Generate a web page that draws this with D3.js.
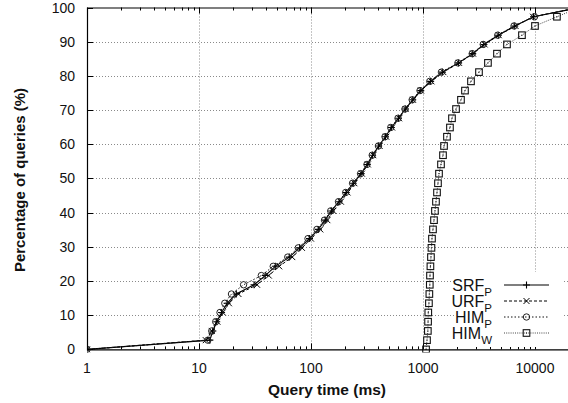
<!DOCTYPE html>
<html><head><meta charset="utf-8">
<script src="https://cdn.jsdelivr.net/npm/d3@7/dist/d3.min.js"></script>
<style>
html,body{margin:0;padding:0;background:#fff;}
text{font-family:"Liberation Sans",Arial,Helvetica,sans-serif;fill:#111;}
</style></head>
<body><svg id="c" width="568" height="403"></svg>
<script>
// ---- data ----
const percentiles = [0, 2.7, 5.4, 8.1, 10.8, 13.5, 16.2, 18.9, 21.6, 24.3, 27.0, 29.7, 32.4, 35.1, 37.8, 40.5, 43.2, 45.9, 48.6, 51.4, 54.1, 56.8, 59.5, 62.2, 64.9, 67.6, 70.3, 73.0, 75.7, 78.4, 81.1, 83.8, 86.5, 89.2, 91.9, 94.6, 97.3, 100];
const srfTimes  = [1, 12.5, 13.3, 14.4, 15.9, 17.8, 21.5, 31, 39, 48, 64, 79, 97, 116, 134, 152, 178, 206, 238, 280, 318, 355, 402, 462, 522, 605, 695, 810, 955, 1170, 1490, 2080, 2780, 3500, 4700, 6600, 9700, 25000];
const urfTimes  = [1, 11.5, 13.0, 14.6, 16.3, 18.5, 22.5, 33, 42, 52, 68, 83, 100, 121, 140, 158, 185, 212, 244, 285, 322, 360, 410, 470, 530, 612, 700, 815, 960, 1190, 1520, 2100, 2800, 3550, 4750, 6700, 9600, 25000];
const himPTimes = [1, 12, 13.0, 14.1, 15.4, 17.0, 19.5, 25, 36, 46, 62, 77, 94, 113, 132, 150, 176, 204, 235, 277, 316, 352, 400, 458, 515, 598, 690, 800, 940, 1150, 1460, 2050, 2750, 3450, 4650, 6500, 9900, 24000];
const himWTimes = [1065, 1086, 1105, 1110, 1115, 1130, 1140, 1150, 1155, 1165, 1178, 1190, 1203, 1228, 1254, 1279, 1306, 1334, 1361, 1390, 1448, 1509, 1541, 1637, 1741, 1815, 1972, 2184, 2371, 2683, 3162, 3802, 4577, 5623, 7650, 10000, 15700, 25000];
const seriesNames = ["SRF", "URF", "HIM", "HIM"];
const seriesSubs  = ["P", "P", "P", "W"];
const xTickValues = [1, 10, 100, 1000, 10000];
const xTickLabels = ["1", "10", "100", "1000", "10000"];
const yTickValues = [0, 10, 20, 30, 40, 50, 60, 70, 80, 90, 100];
const xTitle = "Query time (ms)";
const yTitle = "Percentage of queries (%)";

const seriesTimes = [srfTimes, urfTimes, himPTimes, himWTimes];
const styles = [
  {dash: null, marker: "plus", color: "#000", width: 1.1},
  {dash: "3,2", marker: "cross", color: "#000", width: 1},
  {dash: "1.5,2", marker: "circle", color: "#111", width: 1},
  {dash: "1,1.2", marker: "square", color: "#444", width: 1}
];

const svg = d3.select("#c");
const L = 87, R = 568.7, T = 7.5, B = 349.4;
const x = d3.scaleLog().domain([1, 20000]).range([L, R]);
const y = d3.scaleLinear().domain([0, 100]).range([B, T]);

svg.append("defs").append("clipPath").attr("id", "clip")
  .append("rect").attr("x", L).attr("y", T - 3).attr("width", R - L).attr("height", B - T + 6);

// grid
const grid = svg.append("g").attr("stroke", "#8a8a8a").attr("stroke-width", 1).attr("stroke-dasharray", "1,2");
yTickValues.filter(v => v > 0 && v < 100).forEach(v => {
  grid.append("line").attr("x1", L).attr("x2", R).attr("y1", Math.round(y(v)) + 0.5).attr("y2", Math.round(y(v)) + 0.5);
});
xTickValues.filter(v => v > 1).forEach(v => {
  grid.append("line").attr("x1", Math.round(x(v)) + 0.5).attr("x2", Math.round(x(v)) + 0.5).attr("y1", T).attr("y2", B);
});

// ticks (inward, mirrored)
const tk = svg.append("g").attr("stroke", "#000").attr("stroke-width", 1);
const minor = [];
for (let d = 1; d <= 10000; d *= 10) for (let m = 2; m <= 9; m++) if (d * m < 20000) minor.push(d * m);
minor.forEach(v => {
  const xx = Math.round(x(v)) + 0.5;
  tk.append("line").attr("x1", xx).attr("x2", xx).attr("y1", B).attr("y2", B - 3);
  tk.append("line").attr("x1", xx).attr("x2", xx).attr("y1", T).attr("y2", T + 3);
});
xTickValues.forEach(v => {
  const xx = Math.round(x(v)) + 0.5;
  tk.append("line").attr("x1", xx).attr("x2", xx).attr("y1", B).attr("y2", B - 6);
  tk.append("line").attr("x1", xx).attr("x2", xx).attr("y1", T).attr("y2", T + 6);
});
yTickValues.forEach(v => {
  const yy = Math.round(y(v)) + 0.5;
  tk.append("line").attr("x1", L).attr("x2", L + 6).attr("y1", yy).attr("y2", yy);
});

// lines
const plot = svg.append("g").attr("clip-path", "url(#clip)");
const lineGen = d3.line().x(d => x(d[0])).y(d => y(d[1]));
function marker(g, type, cx, cy, color) {
  if (type === "plus") {
    g.append("path").attr("d", `M${cx-3.5},${cy}H${cx+3.5}M${cx},${cy-3.5}V${cy+3.5}`).attr("stroke", color).attr("stroke-width", 1.1).attr("fill", "none");
  } else if (type === "cross") {
    g.append("path").attr("d", `M${cx-3},${cy-3}L${cx+3},${cy+3}M${cx-3},${cy+3}L${cx+3},${cy-3}`).attr("stroke", color).attr("stroke-width", 1).attr("fill", "none");
  } else if (type === "circle") {
    g.append("circle").attr("cx", cx).attr("cy", cy).attr("r", 3.2).attr("stroke", "#222").attr("stroke-width", 1).attr("fill", "none");
  } else {
    g.append("rect").attr("x", cx - 3.3).attr("y", cy - 3.3).attr("width", 6.6).attr("height", 6.6).attr("stroke", "#111").attr("stroke-width", 1.1).attr("fill", "none");
    g.append("rect").attr("x", cx - 0.6).attr("y", cy - 0.6).attr("width", 1.2).attr("height", 1.2).attr("fill", "#333");
  }
}
seriesTimes.forEach((times, i) => {
  const data = times.map((t, k) => [t, percentiles[k]]);
  const st = styles[i];
  plot.append("path").datum(data).attr("d", lineGen).attr("fill", "none")
    .attr("stroke", st.color).attr("stroke-width", st.width)
    .attr("stroke-dasharray", st.dash);
  const mg = plot.append("g");
  data.forEach(d => marker(mg, st.marker, x(d[0]), y(d[1]), st.color));
});

// frame
svg.append("path").attr("d", `M${L+0.5},${T}V${B+0.5}H${R}M${L+0.5},${T+0.5}H${R}`)
  .attr("stroke", "#000").attr("stroke-width", 1.2).attr("fill", "none");

// legend
const leg = svg.append("g");
leg.append("rect").attr("x", 456).attr("y", 272).attr("width", 107).attr("height", 75).attr("fill", "#fff");
const legBase = [290.5, 306.5, 322.5, 338.5];
seriesNames.forEach((n, i) => {
  const t = leg.append("text").attr("x", 492).attr("y", legBase[i]).attr("text-anchor", "end").style("font-size", "16px");
  t.append("tspan").text(n);
  t.append("tspan").attr("dy", 5).style("font-size", "11.5px").text(seriesSubs[i]);
  const ly = legBase[i] - 5.5;
  const st = styles[i];
  leg.append("line").attr("x1", 504).attr("x2", 549).attr("y1", ly).attr("y2", ly)
    .attr("stroke", st.color).attr("stroke-width", st.width).attr("stroke-dasharray", st.dash);
  marker(leg, st.marker, 526.5, ly, st.color);
});

// tick labels
xTickValues.forEach((v, i) => {
  svg.append("text").attr("x", x(v)).attr("y", 373).attr("text-anchor", "middle").style("font-size", "14px").text(xTickLabels[i]);
});
yTickValues.forEach(v => {
  svg.append("text").attr("x", 75).attr("y", y(v) + 5).attr("text-anchor", "end").style("font-size", "14px").text(v);
});
svg.append("text").attr("x", 327).attr("y", 395).attr("text-anchor", "middle").style("font-size", "15.5px").style("font-weight", "bold").text(xTitle);
svg.append("text").attr("transform", "translate(25,180) rotate(-90)").attr("text-anchor", "middle").style("font-size", "15px").style("font-weight", "bold").text(yTitle);
</script></body></html>
